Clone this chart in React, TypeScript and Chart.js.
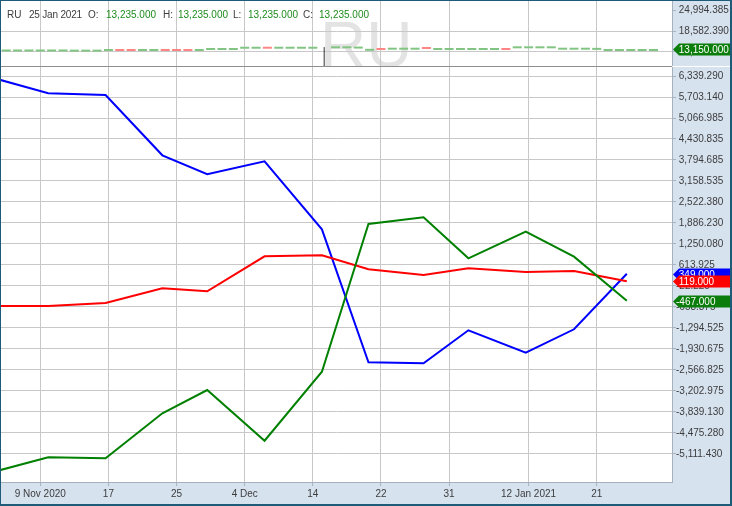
import React, { useEffect, useRef } from 'react';
import { Chart, registerables } from 'chart.js';

Chart.register(...registerables);

// ---------- data ----------
const X_TICK_POS = [0, 6, 12, 18, 24, 30, 36, 43, 49];
const X_TICK_LABELS = ['9 Nov 2020', '17', '25', '4 Dec', '14', '22', '31', '12 Jan 2021', '21'];

const WEEK_X = [-3.5, 0.7, 5.75, 10.75, 14.7, 19.75, 24.8, 28.9, 33.75, 37.7, 42.75, 47.0, 51.65];
const BLUE_VALUES = [6218, 5815, 5764, 3937, 3362, 3755, 1695, -2334, -2364, -1364, -2043, -1334, 349];
const RED_VALUES = [-628, -628, -537, -92, -183, 877, 908, 483, 311, 514, 402, 432, 119];
const GREEN_VALUES = [-5596, -5211, -5242, -3878, -3173, -4709, -2618, 1856, 2059, 817, 1623, 865, -467];

const Y_TICKS = [6339.29, 5703.14, 5066.985, 4430.835, 3794.685, 3158.535, 2522.38, 1886.23, 1250.08, 613.925,
  -22.225, -658.375, -1294.525, -1930.675, -2566.825, -3202.975, -3839.13, -4475.28, -5111.43];
const TOP_Y_TICKS = [24994.385, 18582.39, 12170.395];

const DASH_DAYS = [-3, -2, -1, 0, 1, 2, 3, 4, 5, 6, 7, 8, 9, 10, 11, 12, 13, 14, 15, 16, 17, 18, 19, 20, 21, 22, 23, 24,
  26, 27, 28, 29, 30, 31, 32, 33, 34, 35, 36, 37, 38, 39, 40, 41, 42, 43, 44, 45, 46, 47, 48, 49, 50, 51, 52, 53, 54];
const DASH_VALUES = [12600, 12600, 12600, 12600, 12600, 12600, 12550, 12550, 12550, 12750, 12750, 12750, 12750, 12750,
  12750, 12750, 12750, 12750, 13050, 13050, 13050, 13450, 13450, 13450, 13450, 13450, 13450, 13450,
  13580, 13580, 13500, 12800, 13050, 13150, 13150, 13150, 13370, 13060, 13060, 13060, 13060, 13060, 13060, 13060,
  13580, 13580, 13580, 13580, 13150, 13150, 13150, 13100, 12750, 12750, 12750, 12750, 12750];
const DASH_DOWN_DAYS = [7, 8, 11, 12, 13, 20, 30, 34, 41];
const WICK_DAY = 25;
const WICK_HIGH = 13650;
const WICK_LOW = 6000;
const LAST_PRICE = 13150;

const HEADER_SYMBOL = 'RU';
const HEADER_DATE = '25 Jan 2021';
const HEADER_OHLC = [['O:', 13235], ['H:', 13235], ['L:', 13235], ['C:', 13235]] as const;

// ---------- style / layout ----------
const FONT = '"Liberation Sans", Arial, sans-serif';
const PANEL = '#d7e2ef';
const GRID = '#c8c8c8';
const TICK_C = '#a9b3bf';
const AXIS_BORDER = '#a7b1bd';
const TEXT = '#3c3c3c';
const W = 729;
const X_MIN = -3.46;
const X_MAX = 55.63;

Chart.defaults.font.family = FONT;
Chart.defaults.font.size = 10;
Chart.defaults.color = TEXT;

const fmt = (v: number) =>
  (v < 0 ? '' : ' ') + v.toLocaleString('en-US', { minimumFractionDigits: 3, maximumFractionDigits: 3 });

const bgPlugin = {
  id: 'bg',
  beforeDraw(chart: any) {
    const { ctx, chartArea: a, width, height } = chart;
    ctx.save();
    ctx.fillStyle = PANEL;
    ctx.fillRect(0, 0, width, height);
    ctx.fillStyle = '#ffffff';
    ctx.fillRect(a.left, a.top, a.right - a.left, a.bottom - a.top);
    const wm = chart.options.plugins?.watermark;
    if (wm) {
      ctx.beginPath();
      ctx.rect(a.left, a.top, a.right - a.left, a.bottom - a.top);
      ctx.clip();
      ctx.font = `64px ${FONT}`;
      ctx.fillStyle = '#e3e3e3';
      ctx.textBaseline = 'alphabetic';
      ctx.textAlign = 'left';
      ctx.fillText(wm.text, wm.x, wm.y);
    }
    ctx.restore();
  },
};

function drawTag(ctx: CanvasRenderingContext2D, x0: number, y: number, color: string, text: string) {
  const h = 6;
  ctx.save();
  ctx.beginPath();
  ctx.moveTo(x0, y);
  ctx.lineTo(x0 + 6, y - h);
  ctx.lineTo(x0 + 70, y - h);
  ctx.lineTo(x0 + 70, y + h);
  ctx.lineTo(x0 + 6, y + h);
  ctx.closePath();
  ctx.fillStyle = color;
  ctx.fill();
  ctx.fillStyle = '#ffffff';
  ctx.font = `10px ${FONT}`;
  ctx.textBaseline = 'middle';
  ctx.textAlign = 'left';
  ctx.fillText(text, x0 + 3, y + 0.5);
  ctx.restore();
}

const tagPlugin = {
  id: 'tags',
  afterDraw(chart: any) {
    const tags = chart.options.plugins?.tags?.items || [];
    const y = chart.scales.y;
    const x0 = chart.chartArea.right + 1;
    for (const t of tags) drawTag(chart.ctx, x0, Math.round(y.getPixelForValue(t.value)) + 0.5, t.color, fmt(t.value));
  },
};

function yAxis(min: number, max: number, ticks: number[], hideTopGrid = false) {
  return {
    type: 'linear',
    position: 'right',
    min,
    max,
    afterBuildTicks: (s: any) => { s.ticks = ticks.map((v) => ({ value: v })); },
    afterFit: (s: any) => { s.width = 58; s.paddingTop = 0; s.paddingBottom = 0; },
    grid: {
      color: (c: any) => (hideTopGrid && c.tick && c.tick.value > 20000 ? 'rgba(0,0,0,0)' : GRID),
      tickColor: TICK_C,
      tickLength: 4,
      lineWidth: 1,
    },
    border: { display: true, color: AXIS_BORDER },
    ticks: { padding: 0, color: TEXT, font: { size: 10, family: FONT }, callback: (v: any) => fmt(Number(v)) },
  };
}

function xAxis(showLabels: boolean) {
  return {
    type: 'linear',
    min: X_MIN,
    max: X_MAX,
    afterBuildTicks: (s: any) => { s.ticks = X_TICK_POS.map((v) => ({ value: v })); },
    afterFit: (s: any) => { s.height = showLabels ? 22 : 0; s.paddingLeft = 0; s.paddingRight = 0; },
    grid: { color: GRID, tickColor: TICK_C, tickLength: 4, drawTicks: showLabels, lineWidth: 1 },
    border: { display: showLabels, color: AXIS_BORDER },
    ticks: {
      display: showLabels,
      maxRotation: 0,
      autoSkip: false,
      padding: 2,
      color: TEXT,
      font: { size: 10, family: FONT },
      callback: (v: any) => {
        const i = X_TICK_POS.indexOf(Number(v));
        return i >= 0 ? X_TICK_LABELS[i] : '';
      },
    },
  };
}

export default function App() {
  const topRef = useRef<HTMLCanvasElement>(null);
  const mainRef = useRef<HTMLCanvasElement>(null);

  useEffect(() => {
    document.body.style.margin = '0';
    const downSet = new Set(DASH_DOWN_DAYS);
    const dashPts = DASH_DAYS.map((d, i) => ({ x: d, y: DASH_VALUES[i] }));
    const dashColors = DASH_DAYS.map((d) => (downSet.has(d) ? '#ff8585' : '#82c482'));

    const topChart = new Chart(topRef.current!, {
      type: 'line',
      data: {
        datasets: [
          {
            data: [{ x: WICK_DAY, y: WICK_LOW }, { x: WICK_DAY, y: WICK_HIGH }],
            borderColor: '#333333',
            borderWidth: 1,
            pointRadius: 0,
          },
          {
            data: dashPts,
            showLine: false,
            pointStyle: 'line',
            pointRadius: 4.5,
            pointHoverRadius: 0,
            pointBorderWidth: 2,
            pointBorderColor: dashColors,
            pointBackgroundColor: dashColors,
            borderColor: dashColors,
          },
        ],
      },
      options: {
        responsive: false,
        animation: false,
        layout: { padding: 0, autoPadding: false },
        events: [],
        plugins: {
          legend: { display: false },
          tooltip: { enabled: false },
          watermark: { text: 'RU', x: 319, y: 66 },
          tags: { items: [{ value: LAST_PRICE, color: '#0a7d0a' }] },
        } as any,
        scales: {
          x: xAxis(false),
          y: yAxis(7816, 27856, TOP_Y_TICKS, true),
        } as any,
      },
      plugins: [bgPlugin, tagPlugin],
    } as any);

    const line = (vals: number[], color: string) => ({
      data: WEEK_X.map((x, i) => ({ x, y: vals[i] })),
      borderColor: color,
      backgroundColor: color,
      borderWidth: 2,
      pointRadius: 0,
      pointHoverRadius: 0,
      tension: 0,
    });

    const mainChart = new Chart(mainRef.current!, {
      type: 'line',
      data: {
        datasets: [
          line(GREEN_VALUES, '#008000'),
          line(RED_VALUES, '#ff0000'),
          line(BLUE_VALUES, '#0000ff'),
        ],
      },
      options: {
        responsive: false,
        animation: false,
        layout: { padding: 0, autoPadding: false },
        events: [],
        plugins: {
          legend: { display: false },
          tooltip: { enabled: false },
          tags: {
            items: [
              { value: BLUE_VALUES[BLUE_VALUES.length - 1], color: '#0000ff' },
              { value: RED_VALUES[RED_VALUES.length - 1], color: '#ff0000' },
              { value: GREEN_VALUES[GREEN_VALUES.length - 1], color: '#0a7d0a' },
            ],
          },
        } as any,
        scales: {
          x: xAxis(true),
          y: yAxis(-5960, 6612, Y_TICKS),
        } as any,
      },
      plugins: [bgPlugin, tagPlugin],
    } as any);

    return () => {
      topChart.destroy();
      mainChart.destroy();
    };
  }, []);

  const headerPos = [87, 105, 162, 177, 232, 247, 302, 318];
  const spanBase: React.CSSProperties = {
    position: 'absolute',
    top: 8,
    fontFamily: FONT,
    fontSize: 10,
    lineHeight: '12px',
    whiteSpace: 'nowrap',
  };

  return (
    <div
      style={{
        position: 'absolute',
        left: 0,
        top: 0,
        width: 732,
        height: 506,
        boxSizing: 'border-box',
        borderStyle: 'solid',
        borderColor: '#1d5b79',
        borderWidth: '1px 2px 2px 1px',
        background: '#ffffff',
        overflow: 'hidden',
      }}
    >
      <canvas ref={topRef} width={W} height={65} style={{ position: 'absolute', left: 0, top: 0, display: 'block' }} />
      <div style={{ position: 'absolute', left: 0, top: 65, width: 671, height: 1, background: '#8e8e8e' }} />
      <canvas ref={mainRef} width={W} height={437} style={{ position: 'absolute', left: 0, top: 66, display: 'block' }} />
      <span style={{ ...spanBase, left: 6, color: TEXT }}>{HEADER_SYMBOL}</span>
      <span style={{ ...spanBase, left: 28, color: TEXT, letterSpacing: '-0.2px' }}>{HEADER_DATE}</span>
      {HEADER_OHLC.map(([k, v], i) => (
        <React.Fragment key={k}>
          <span style={{ ...spanBase, left: headerPos[i * 2], color: TEXT }}>{k}</span>
          <span style={{ ...spanBase, left: headerPos[i * 2 + 1], color: '#1e8c1e' }}>
            {v.toLocaleString('en-US', { minimumFractionDigits: 3, maximumFractionDigits: 3 })}
          </span>
        </React.Fragment>
      ))}
    </div>
  );
}
